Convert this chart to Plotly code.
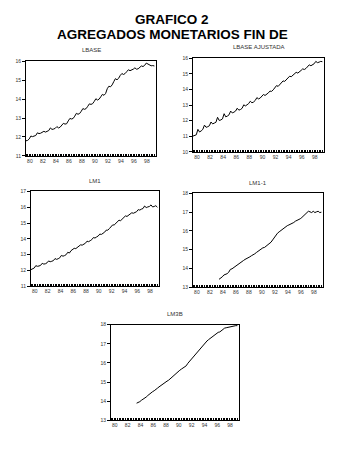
import plotly.graph_objects as go
import pandas as pd

# ---------------- data (quarterly, log levels) ----------------
lbase_start = "1980Q1"
lbase = [
    11.80, 11.82, 11.90, 12.05,
    12.02, 12.04, 12.08, 12.22,
    12.18, 12.20, 12.24, 12.30,
    12.26, 12.28, 12.34, 12.48,
    12.40, 12.42, 12.46, 12.55,
    12.48, 12.52, 12.60, 12.72,
    12.68, 12.70, 12.85, 12.98,
    12.95, 12.98, 13.10, 13.25,
    13.20, 13.24, 13.36, 13.50,
    13.46, 13.50, 13.62, 13.75,
    13.72, 13.76, 13.88, 14.02,
    13.95, 14.00, 14.12, 14.25,
    14.20, 14.30, 14.55, 14.68,
    14.65, 14.75, 14.92, 15.08,
    15.02, 15.10, 15.25, 15.35,
    15.30, 15.35, 15.45, 15.55,
    15.50, 15.52, 15.58, 15.65,
    15.58, 15.60, 15.66, 15.75,
    15.72, 15.78, 15.90, 15.85,
    15.80, 15.76, 15.77, 15.75,
]

lbase_aj_start = "1980Q1"
lbase_aj = [
    11.02, 11.05, 11.10, 11.45,
    11.28, 11.35, 11.45, 11.72,
    11.58, 11.62, 11.68, 11.92,
    11.80, 11.85, 11.90, 12.22,
    12.02, 12.05, 12.12, 12.45,
    12.25, 12.30, 12.38, 12.62,
    12.50, 12.55, 12.62, 12.80,
    12.68, 12.72, 12.80, 13.02,
    12.95, 13.02, 13.10, 13.25,
    13.15, 13.20, 13.30, 13.48,
    13.40, 13.45, 13.55, 13.68,
    13.62, 13.68, 13.78, 13.90,
    13.88, 13.98, 14.12, 14.25,
    14.20, 14.30, 14.42, 14.55,
    14.52, 14.62, 14.75, 14.85,
    14.82, 14.90, 15.00, 15.10,
    15.05, 15.12, 15.22, 15.32,
    15.28, 15.35, 15.45, 15.58,
    15.52, 15.58, 15.65, 15.80,
    15.72, 15.75, 15.80, 15.78,
]

lm1_start = "1980Q1"
lm1 = [
    12.05, 12.08, 12.15, 12.30,
    12.26, 12.28, 12.32, 12.45,
    12.40, 12.42, 12.48, 12.60,
    12.55, 12.58, 12.62, 12.75,
    12.70, 12.74, 12.80, 12.95,
    12.90, 12.94, 13.00, 13.15,
    13.10, 13.25, 13.32, 13.40,
    13.38, 13.45, 13.50, 13.62,
    13.60, 13.66, 13.72, 13.85,
    13.82, 13.88, 13.95, 14.08,
    14.05, 14.12, 14.18, 14.30,
    14.28, 14.35, 14.42, 14.55,
    14.55, 14.65, 14.75, 14.88,
    14.88, 14.98, 15.05, 15.18,
    15.15, 15.25, 15.32, 15.45,
    15.42, 15.50, 15.55, 15.65,
    15.62, 15.68, 15.72, 15.85,
    15.82, 15.88, 15.92, 16.08,
    15.98, 16.02, 16.05, 16.15,
    16.02, 16.05, 16.10, 16.00,
]

lm1_1_start = "1984Q1"
lm1_1 = [
    13.42, 13.48, 13.55, 13.65,
    13.68, 13.72, 13.80, 13.95,
    13.98, 14.05, 14.10, 14.18,
    14.22, 14.28, 14.35, 14.42,
    14.48, 14.52, 14.55, 14.62,
    14.68, 14.72, 14.78, 14.85,
    14.92, 14.96, 15.02, 15.10,
    15.12, 15.18, 15.25, 15.32,
    15.40, 15.52, 15.65, 15.78,
    15.88, 15.95, 16.02, 16.10,
    16.15, 16.22, 16.28, 16.32,
    16.35, 16.40, 16.45, 16.52,
    16.55, 16.60, 16.65, 16.72,
    16.80, 16.85, 16.92, 17.05,
    17.02, 16.98, 17.05, 16.98,
    17.02, 17.05, 16.98, 17.00,
]

lm3b_start = "1984Q1"
lm3b = [
    13.90, 13.92, 13.98, 14.05,
    14.10, 14.15, 14.22, 14.30,
    14.38, 14.45, 14.50, 14.55,
    14.60, 14.68, 14.75, 14.82,
    14.88, 14.92, 14.98, 15.05,
    15.10, 15.18, 15.25, 15.32,
    15.40, 15.48, 15.55, 15.62,
    15.68, 15.75, 15.80, 15.85,
    15.98, 16.08, 16.18, 16.28,
    16.38, 16.48, 16.60, 16.70,
    16.80, 16.90, 17.00, 17.08,
    17.15, 17.22, 17.28, 17.35,
    17.40, 17.45, 17.55, 17.60,
    17.62, 17.68, 17.78, 17.82,
    17.84, 17.86, 17.88, 17.92,
    17.92, 17.93, 17.95, 17.95,
]

year_ticks = [1980, 1982, 1984, 1986, 1988, 1990, 1992, 1994, 1996, 1998]
year_labels = ["80", "82", "84", "86", "88", "90", "92", "94", "96", "98"]

panels = [
    ("LBASE", lbase_start, lbase, [11, 16]),
    ("LBASE AJUSTADA", lbase_aj_start, lbase_aj, [10, 16]),
    ("LM1", lm1_start, lm1, [11, 17]),
    ("LM1-1", lm1_1_start, lm1_1, [13, 18]),
    ("LM3B", lm3b_start, lm3b, [13, 18]),
]

W, H = 337, 453
# pixel boxes: left, right, top, bottom
boxes = [
    (26, 156, 59, 155),
    (193, 324, 56, 151),
    (31, 159, 191, 287),
    (193, 323, 193, 288),
    (111, 239, 326, 423),
]


def qx(start, n):
    p = pd.period_range(start=start, periods=n, freq="Q")
    return [pp.year + (pp.quarter - 1) / 4.0 for pp in p]


fig = go.Figure()
font_fam = "Liberation Sans, Arial, sans-serif"
for i, ((name, start, vals, yr), (l, r, t, b)) in enumerate(zip(panels, boxes)):
    ax = "" if i == 0 else str(i + 1)
    fig.add_trace(go.Scatter(
        x=qx(start, len(vals)), y=vals, mode="lines",
        line=dict(color="black", width=1),
        xaxis="x" + ax, yaxis="y" + ax, showlegend=False,
    ))
    xd = [l / W, r / W]
    yd = [1 - b / H, 1 - t / H]
    fig.layout["xaxis" + ax] = dict(
        domain=xd, range=[1980, 2000], anchor="y" + ax,
        tickvals=[v + 0.6 for v in year_ticks], ticktext=year_labels,
        ticks="", showgrid=False, zeroline=False,
        showline=True, linecolor="black", linewidth=1, mirror=True,
        tickfont=dict(size=5, color="#333", family=font_fam),
        minor=dict(dtick=0.25, tick0=1980, ticks="inside", ticklen=2,
                   tickcolor="black", showgrid=False),
    )
    fig.layout["yaxis" + ax] = dict(
        domain=yd, range=yr, anchor="x" + ax, dtick=1,
        ticks="outside", ticklen=3, tickcolor="black",
        showgrid=False, zeroline=False,
        showline=True, linecolor="black", linewidth=1, mirror=True,
        tickfont=dict(size=5, color="#333", family=font_fam),
    )
    fig.add_annotation(
        text=name, x=(l + r) / 2 / W, y=1 - (t - 11) / H, xref="paper", yref="paper",
        showarrow=False, font=dict(size=6, color="#333", family=font_fam),
        xanchor="center", yanchor="middle",
    )

fig.add_annotation(text="<b>GRAFICO 2</b>", x=172 / W, y=1 - 17 / H, xref="paper", yref="paper",
                   showarrow=False, font=dict(size=13.5, color="black", family=font_fam),
                   xanchor="center", yanchor="middle")
fig.add_annotation(text="<b>AGREGADOS MONETARIOS FIN DE</b>", x=172 / W, y=1 - 32 / H,
                   xref="paper", yref="paper", showarrow=False,
                   font=dict(size=13.5, color="black", family=font_fam),
                   xanchor="center", yanchor="middle")

fig.update_layout(
    width=W, height=H, margin=dict(l=0, r=0, t=0, b=0),
    paper_bgcolor="white", plot_bgcolor="white",
)
fig.write_html("out.html")
